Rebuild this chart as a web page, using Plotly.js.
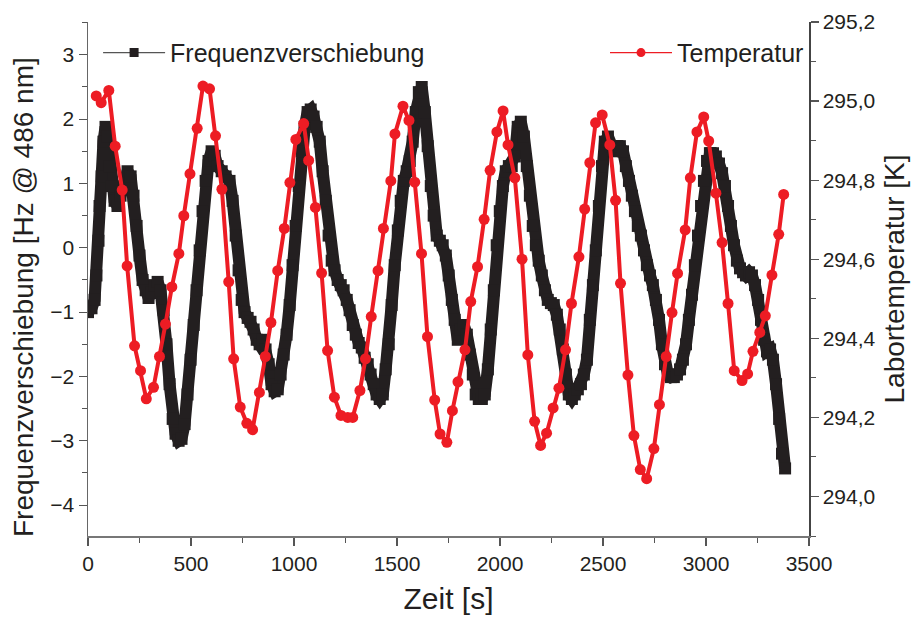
<!DOCTYPE html>
<html>
<head>
<meta charset="utf-8">
<script src="https://cdn.plot.ly/plotly-3.0.1.min.js"></script>
<style>html,body{margin:0;padding:0;background:#fff;}#chart{width:915px;height:621px;}</style>
</head>
<body>
<div id="chart"></div>
<script>
// Frequenzverschiebung (left axis) — time [s]
const freqTime = [0,17,32,41,51,56,66,75,85,95,104,114,129,143,158,177,192,207,221,236,250,265,280,294,309,323,338,352,367,381,396,411,425,440,454,469,483,498,513,527,542,556,571,585,600,615,629,649,668,687,702,717,731,746,760,775,789,804,819,833,848,862,877,891,906,921,935,950,964,979,993,1008,1023,1037,1052,1066,1081,1095,1110,1125,1139,1154,1168,1183,1197,1212,1227,1241,1256,1270,1285,1300,1314,1329,1343,1358,1372,1387,1401,1416,1431,1445,1460,1474,1489,1504,1518,1533,1547,1562,1576,1591,1606,1620,1635,1649,1664,1678,1693,1708,1722,1737,1751,1766,1780,1795,1810,1824,1839,1853,1868,1882,1897,1912,1926,1941,1955,1970,1984,1999,2014,2028,2043,2057,2072,2086,2101,2116,2130,2145,2159,2174,2188,2203,2218,2232,2247,2261,2276,2290,2305,2320,2334,2349,2363,2378,2393,2407,2422,2436,2451,2465,2480,2495,2509,2524,2538,2553,2567,2582,2597,2611,2626,2640,2655,2669,2684,2699,2713,2728,2742,2757,2772,2786,2801,2815,2830,2844,2859,2874,2888,2903,2917,2932,2946,2961,2976,2990,3005,3019,3034,3048,3063,3078,3092,3107,3121,3136,3150,3165,3180,3194,3209,3223,3238,3253,3267,3282,3296,3311,3325,3340,3355,3369,3384];
// Frequenzverschiebung [Hz]
const freqShift = [-1.00,-0.94,-0.81,-0.43,0.11,0.65,1.11,1.65,1.88,1.73,1.27,0.96,0.73,0.65,0.81,0.96,1.19,1.11,0.81,0.34,-0.12,-0.50,-0.66,-0.78,-0.69,-0.58,-0.53,-0.66,-0.97,-1.50,-2.12,-2.66,-2.89,-3.00,-2.97,-2.74,-2.28,-1.74,-1.20,-0.66,-0.04,0.57,1.04,1.35,1.50,1.43,1.27,1.19,1.11,1.04,0.73,0.19,-0.35,-0.81,-1.00,-1.09,-1.15,-1.27,-1.43,-1.50,-1.43,-1.58,-1.81,-2.12,-2.23,-2.20,-1.97,-1.66,-1.35,-0.89,-0.27,0.34,0.96,1.50,1.88,2.11,2.15,2.04,1.88,1.65,1.19,0.73,0.19,-0.20,-0.35,-0.50,-0.58,-0.66,-0.81,-0.97,-1.20,-1.35,-1.48,-1.55,-1.71,-1.81,-1.97,-2.12,-2.28,-2.35,-2.28,-1.89,-1.50,-0.89,-0.27,0.27,0.73,1.04,1.19,1.35,1.65,2.11,2.42,2.50,2.11,1.58,0.96,0.50,0.19,0.11,0.04,-0.12,-0.43,-0.81,-1.12,-1.43,-1.27,-1.20,-1.35,-1.66,-1.97,-2.28,-2.35,-2.35,-2.28,-1.89,-1.27,-0.66,0.04,0.57,0.96,1.19,1.27,1.27,1.42,1.88,1.96,1.73,1.27,0.81,0.34,0.04,-0.20,-0.43,-0.66,-0.81,-0.86,-0.89,-1.04,-1.27,-1.58,-1.97,-2.28,-2.35,-2.28,-2.20,-2.12,-1.97,-1.74,-1.12,-0.58,-0.04,0.65,1.27,1.65,1.73,1.58,1.50,1.58,1.58,1.50,1.27,1.04,0.81,0.57,0.34,0.19,-0.04,-0.27,-0.43,-0.58,-0.81,-1.12,-1.50,-1.81,-1.97,-2.01,-2.01,-1.97,-1.89,-1.74,-1.50,-1.12,-0.73,-0.27,0.19,0.65,1.04,1.35,1.47,1.47,1.42,1.31,1.16,0.96,0.65,0.34,0.04,-0.20,-0.32,-0.38,-0.43,-0.38,-0.43,-0.58,-0.81,-1.12,-1.43,-1.61,-1.58,-1.74,-2.12,-2.66,-3.20,-3.43,-3.51];
// Temperatur (right axis) — time [s]
const tempTime = [40,64,101,132,166,190,226,255,283,318,347,376,407,441,465,495,530,558,590,619,650,683,707,739,771,799,832,861,888,921,953,980,1009,1047,1071,1104,1134,1163,1196,1228,1261,1285,1320,1347,1375,1408,1434,1470,1490,1529,1558,1586,1619,1648,1683,1709,1742,1769,1796,1830,1858,1891,1923,1952,1985,2015,2039,2072,2107,2135,2168,2197,2226,2258,2286,2318,2347,2383,2411,2436,2464,2496,2533,2561,2585,2621,2650,2681,2712,2747,2774,2807,2835,2862,2899,2924,2956,2989,3013,3048,3078,3107,3137,3175,3202,3228,3261,3288,3320,3353,3377];
// Labortemperatur [K]
const tempK = [295.013,294.996,295.027,294.886,294.775,294.583,294.381,294.318,294.247,294.276,294.354,294.436,294.530,294.614,294.710,294.816,294.931,295.038,295.031,294.912,294.777,294.543,294.348,294.226,294.185,294.169,294.263,294.354,294.440,294.571,294.678,294.794,294.903,294.943,294.850,294.731,294.565,294.369,294.251,294.205,294.200,294.200,294.268,294.348,294.455,294.571,294.678,294.798,294.917,294.987,294.951,294.795,294.614,294.404,294.244,294.158,294.137,294.217,294.290,294.371,294.493,294.581,294.701,294.825,294.922,294.975,294.889,294.806,294.600,294.358,294.190,294.129,294.160,294.224,294.274,294.371,294.488,294.606,294.727,294.844,294.945,294.965,294.889,294.749,294.539,294.307,294.154,294.068,294.045,294.121,294.232,294.354,294.465,294.564,294.674,294.806,294.922,294.960,294.899,294.767,294.642,294.488,294.318,294.293,294.310,294.367,294.415,294.457,294.560,294.663,294.764];

const xTicks = [0,500,1000,1500,2000,2500,3000,3500];
const yLeftTicks = [-4,-3,-2,-1,0,1,2,3];
const yRightTicks = [294.0,294.2,294.4,294.6,294.8,295.0,295.2];
const seriesNames = ['Frequenzverschiebung','Temperatur'];

const BLACK = '#231f20';
const RED = '#ed1c24';
const FONT = 'Liberation Sans, Arial, Helvetica, sans-serif';

const traces = [
  {x: freqTime, y: freqShift, type: 'scatter', mode: 'lines+markers', showlegend: false,
   line: {color: BLACK, width: 12}, marker: {symbol: 'square', size: 12, color: BLACK}, xaxis: 'x', yaxis: 'y'},
  {x: tempTime, y: tempK, type: 'scatter', mode: 'lines+markers', showlegend: false,
   line: {color: RED, width: 4}, marker: {symbol: 'circle', size: 11, color: RED}, xaxis: 'x', yaxis: 'y2'},
  {x: [null], y: [null], type: 'scatter', mode: 'lines+markers', name: seriesNames[0], legend: 'legend',
   line: {color: '#555555', width: 1.2}, marker: {symbol: 'square', size: 9, color: BLACK}, xaxis: 'x', yaxis: 'y'},
  {x: [null], y: [null], type: 'scatter', mode: 'lines+markers', name: seriesNames[1], legend: 'legend2',
   line: {color: RED, width: 1.2}, marker: {symbol: 'circle', size: 9, color: RED}, xaxis: 'x', yaxis: 'y2'}
];

const axisCommon = {
  showgrid: false, zeroline: false, showline: true, linewidth: 1.5,
  ticks: 'outside', ticklen: 8, tickwidth: 1.2,
  tickfont: {family: FONT, size: 21, color: BLACK}
};

const layout = {
  width: 915, height: 621,
  margin: {l: 88, r: 106, t: 22, b: 85},
  paper_bgcolor: '#ffffff', plot_bgcolor: '#ffffff',
  separators: ',.',
  font: {family: FONT, color: BLACK},
  xaxis: Object.assign({}, axisCommon, {
    range: [0, 3500], tickvals: xTicks, linecolor: '#777777', tickcolor: '#555555',
    minor: {dtick: 250, tick0: 0, ticks: 'outside', ticklen: 5, tickcolor: '#555555', tickwidth: 1},
    title: {text: 'Zeit [s]', font: {family: FONT, size: 30, color: BLACK}, standoff: 14}
  }),
  yaxis: Object.assign({}, axisCommon, {
    range: [-4.48, 3.51], tickvals: yLeftTicks, linecolor: '#666666', tickcolor: '#555555',
    minor: {dtick: 0.5, tick0: 0, ticks: 'outside', ticklen: 5, tickcolor: '#555555', tickwidth: 1}
  }),
  yaxis2: Object.assign({}, axisCommon, {
    overlaying: 'y', side: 'right', anchor: 'x',
    range: [293.9, 295.2], tickvals: yRightTicks, tickformat: '.1f', linecolor: '#444444', tickcolor: '#555555',
    minor: {dtick: 0.1, tick0: 294.0, ticks: 'outside', ticklen: 5, tickcolor: '#555555', tickwidth: 1},
    title: {text: 'Labortemperatur [K]', font: {family: FONT, size: 28, color: BLACK}, standoff: 10}
  }),
  annotations: [
    {text: 'Frequenzverschiebung [Hz @ 486 nm]', xref: 'paper', yref: 'paper', x: -0.0, y: 0.465,
     xshift: -64, textangle: -90, showarrow: false, xanchor: 'center', yanchor: 'middle',
     font: {family: FONT, size: 28, color: BLACK}}
  ],
  legend: {x: 0.014, y: 0.94, xanchor: 'left', yanchor: 'middle', bgcolor: 'rgba(0,0,0,0)',
    font: {family: FONT, size: 25, color: BLACK}, itemwidth: 62},
  legend2: {x: 1.0, y: 0.94, xanchor: 'right', yanchor: 'middle', bgcolor: 'rgba(0,0,0,0)',
    font: {family: FONT, size: 25, color: BLACK}, itemwidth: 62}
};

Plotly.newPlot('chart', traces, layout, {displayModeBar: false, staticPlot: true});
</script>
</body>
</html>
